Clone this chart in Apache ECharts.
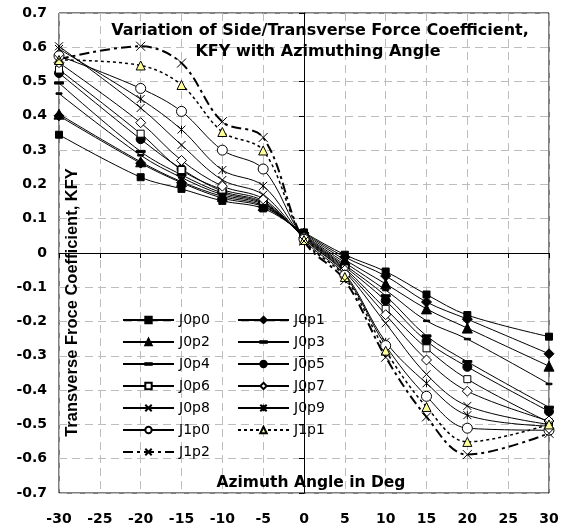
<!DOCTYPE html>
<html>
<head>
<meta charset="utf-8">
<script src="https://cdn.jsdelivr.net/npm/echarts@6/dist/echarts.min.js"></script>
<style>
    html, body { margin: 0; padding: 0; background: #fff; }
    #kfy-chart { width: 568px; height: 531px; }
</style>
</head>
<body>
<div id="kfy-chart"></div>
<script>
    // azimuth angles (deg) where KFY was measured
    var angles = [-30, -20, -15, -10, -5, 0, 5, 10, 15, 20, 30];

    var J0p0 = [0.345, 0.221, 0.187, 0.152, 0.130, 0.060, -0.005, -0.054, -0.121, -0.181, -0.244];
    var J0p1 = [0.400, 0.262, 0.205, 0.160, 0.135, 0.058, -0.012, -0.067, -0.143, -0.193, -0.294];
    var J0p2 = [0.405, 0.266, 0.208, 0.165, 0.138, 0.055, -0.020, -0.090, -0.163, -0.219, -0.330];
    var J0p3 = [0.465, 0.285, 0.220, 0.170, 0.142, 0.052, -0.028, -0.108, -0.198, -0.251, -0.382];
    var J0p4 = [0.496, 0.296, 0.228, 0.175, 0.145, 0.050, -0.035, -0.125, -0.242, -0.317, -0.450];
    var J0p5 = [0.525, 0.332, 0.245, 0.180, 0.148, 0.048, -0.040, -0.139, -0.257, -0.332, -0.462];
    var J0p6 = [0.535, 0.348, 0.242, 0.185, 0.152, 0.046, -0.045, -0.163, -0.278, -0.368, -0.494];
    var J0p7 = [0.555, 0.380, 0.270, 0.195, 0.158, 0.045, -0.050, -0.180, -0.312, -0.403, -0.490];
    var J0p8 = [0.603, 0.423, 0.315, 0.213, 0.170, 0.043, -0.055, -0.205, -0.354, -0.446, -0.500];
    var J0p9 = [0.595, 0.449, 0.360, 0.242, 0.196, 0.042, -0.060, -0.259, -0.380, -0.473, -0.505];
    var J1p0 = [0.575, 0.480, 0.413, 0.300, 0.245, 0.040, -0.065, -0.270, -0.418, -0.511, -0.517];
    var J1p1 = [0.563, 0.547, 0.490, 0.353, 0.299, 0.038, -0.070, -0.285, -0.449, -0.551, -0.500];
    var J1p2 = [0.565, 0.603, 0.554, 0.383, 0.337, 0.035, -0.080, -0.304, -0.478, -0.588, -0.526];

    var names = ['J0p0', 'J0p1', 'J0p2', 'J0p3', 'J0p4', 'J0p5', 'J0p6', 'J0p7', 'J0p8', 'J0p9', 'J1p0', 'J1p1', 'J1p2'];
    var values = [J0p0, J0p1, J0p2, J0p3, J0p4, J0p5, J0p6, J0p7, J0p8, J0p9, J1p0, J1p1, J1p2];

    // square bounding box so the dash keeps its shape in the legend too
    var DASH = 'path://M0,0M10,10M0,3.75H10V6.25H0Z';
    var CROSS = 'path://M0,0L10,10M0,10L10,0';
    var STAR = 'path://M0,0L10,10M0,10L10,0M5,0L5,10';

    // marker look per series (excel style)
    var marks = {
        J0p0: { symbol: 'rect', size: 7, fill: '#000' },
        J0p1: { symbol: 'diamond', size: 10, fill: '#000' },
        J0p2: { symbol: 'triangle', size: 10, fill: '#000' },
        J0p3: { symbol: DASH, size: 6, fill: '#000' },
        J0p4: { symbol: DASH, size: 9, fill: '#000' },
        J0p5: { symbol: 'circle', size: 9, fill: '#000' },
        J0p6: { symbol: 'rect', size: 7, fill: '#fff' },
        J0p7: { symbol: 'diamond', size: 10, fill: '#fff' },
        J0p8: { symbol: CROSS, size: 8, fill: '#000' },
        J0p9: { symbol: STAR, size: 8, fill: '#000' },
        J1p0: { symbol: 'circle', size: 10, fill: '#fff' },
        J1p1: { symbol: 'triangle', size: 9, fill: '#ffff99' },
        J1p2: { symbol: CROSS, size: 9, fill: '#000' }
    };

    var series = names.map(function (name, i) {
        var m = marks[name];
        var line = { color: '#000', width: 1, type: 'solid' };
        if (name === 'J1p1') { line = { color: '#000', width: 1.5, type: [3, 3] }; }
        if (name === 'J1p2') { line = { color: '#000', width: 2, type: [10, 4, 3, 4] }; }
        return {
            name: name,
            type: 'line',
            smooth: 0.35,
            symbol: m.symbol,
            symbolSize: m.size,
            showAllSymbol: true,
            lineStyle: line,
            itemStyle: { color: m.fill, borderColor: '#000', borderWidth: 1 },
            data: angles.map(function (a, k) { return [a, values[i][k]]; })
        };
    });

    var legendText = { fontFamily: 'DejaVu Sans', fontSize: 14, color: '#000' };

    var chart = echarts.init(document.getElementById('kfy-chart'));
    var option = {
        animation: false,
        backgroundColor: '#fff',
        grid: {
            left: 59, right: 19, top: 13, bottom: 38,
            show: true, borderColor: '#000', borderWidth: 1,
            outerBoundsMode: 'none'
        },
        legend: [
            {
                orient: 'vertical', left: 122, top: 313, itemGap: 8, padding: 0,
                itemWidth: 51, itemHeight: 8, textStyle: legendText,
                data: ['J0p0', 'J0p2', 'J0p4', 'J0p6', 'J0p8', 'J1p0', 'J1p2']
            },
            {
                orient: 'vertical', left: 237, top: 313, itemGap: 8, padding: 0,
                itemWidth: 51, itemHeight: 8, textStyle: legendText,
                data: ['J0p1', 'J0p3', 'J0p5', 'J0p7', 'J0p9', 'J1p1']
            }
        ],
        xAxis: {
            type: 'value', min: -30, max: 30, interval: 5,
            axisLine: { lineStyle: { color: '#000', width: 1 } },
            axisTick: { show: true, length: 5, lineStyle: { color: '#000' } },
            axisLabel: { margin: 19, color: '#000', fontFamily: 'DejaVu Sans', fontWeight: 'bold', fontSize: 14 },
            splitLine: { show: true, lineStyle: { color: '#bdbdbd', type: [8, 5] } }
        },
        yAxis: {
            type: 'value', min: -0.7, max: 0.7, interval: 0.1,
            axisLine: { show: true, lineStyle: { color: '#000', width: 1 } },
            axisTick: { show: true, length: 5, lineStyle: { color: '#000' } },
            axisLabel: {
                margin: 12, color: '#000', fontFamily: 'DejaVu Sans', fontWeight: 'bold', fontSize: 14,
                formatter: function (v) { return Math.abs(v) < 1e-9 ? '0' : v.toFixed(1); }
            },
            splitLine: { show: true, lineStyle: { color: '#bdbdbd', type: [8, 5] } }
        },
        graphic: [
            {
                type: 'text', x: 320, y: 30.5, z: 100,
                style: { text: 'Variation of Side/Transverse Force Coefficient,', font: 'bold 16px "DejaVu Sans"', fill: '#000', textAlign: 'center', textVerticalAlign: 'middle' }
            },
            {
                type: 'text', x: 318, y: 52, z: 100,
                style: { text: 'KFY with Azimuthing Angle', font: 'bold 16px "DejaVu Sans"', fill: '#000', textAlign: 'center', textVerticalAlign: 'middle' }
            },
            {
                type: 'text', x: 311, y: 483, z: 100,
                style: { text: 'Azimuth Angle in Deg', font: 'bold 15.5px "DejaVu Sans"', fill: '#000', textAlign: 'center', textVerticalAlign: 'middle' }
            },
            {
                type: 'text', x: 72, y: 302.5, rotation: Math.PI / 2, z: 100,
                style: { text: 'Transverse Froce Coefficient, KFY', font: 'bold 16.5px "Liberation Sans"', fill: '#000', textAlign: 'center', textVerticalAlign: 'middle' }
            }
        ],
        series: series
    };
    chart.setOption(option);
    window.addEventListener('resize', function () {
        chart.resize();
    });
</script>
</body>
</html>
